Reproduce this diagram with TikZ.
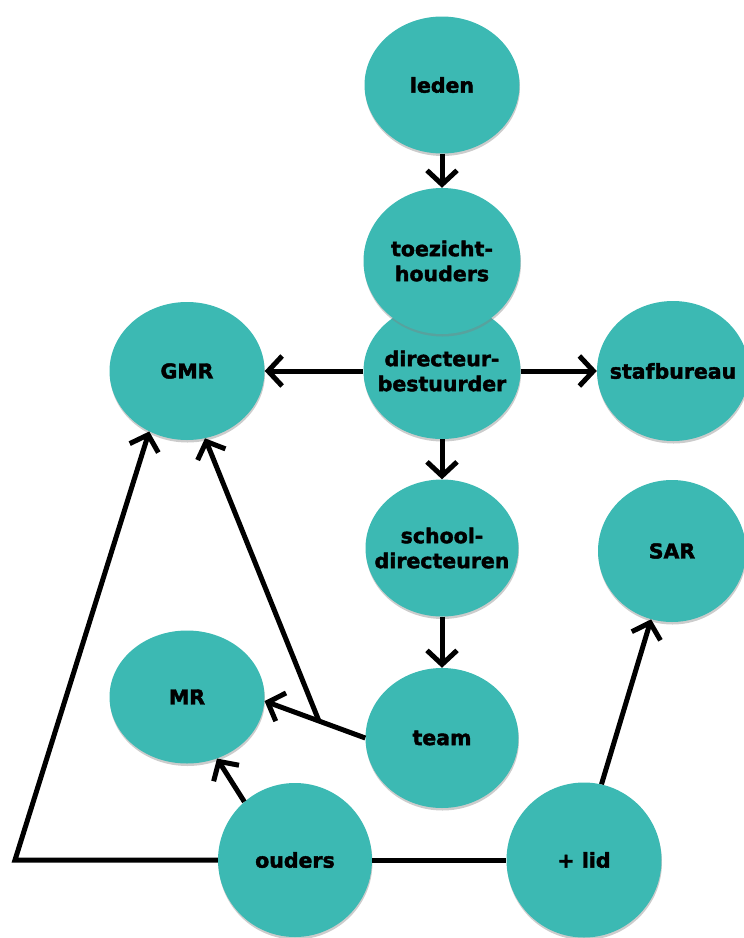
\documentclass[tikz,border=0pt]{standalone}
\usepackage{fontspec}
\setmainfont{DejaVu Sans}[BoldFeatures={FakeBold=2}]
\usetikzlibrary{shapes.geometric,arrows.meta,shadows}
\definecolor{teal1}{RGB}{60,185,179}
\begin{document}
\begin{tikzpicture}[x=1pt,y=-1pt,
  blob/.style={ellipse,fill=teal1,draw=none,inner sep=-25pt,align=center,
    font=\fontsize{20.5}{25}\selectfont\bfseries,
    drop shadow={opacity=0.4,shadow xshift=0.5pt,shadow yshift=-2.5pt}},
  conn/.style={line width=5pt,draw=black},
  arr/.style={conn,-{Straight Barb[length=14pt,width=30pt,line width=5pt]}}]
\useasboundingbox (0,0) rectangle (744,938);
\node[blob,minimum width=155pt,minimum height=137pt] (leden) at (442,85) {leden};
\node[blob,minimum width=157pt,minimum height=136pt] (dir) at (442,371) {directeur-\\bestuurder};
\node[blob,minimum width=157pt,minimum height=146pt] (toez) at (442,261) {toezicht-\\houders};
\node[blob,minimum width=155pt,minimum height=138pt] (gmr) at (187,371) {GMR};
\node[blob,minimum width=152pt,minimum height=140pt] (staf) at (673,371) {stafbureau};
\node[blob,minimum width=153pt,minimum height=137pt] (school) at (442,548) {school-\\directeuren};
\node[blob,minimum width=148pt,minimum height=142pt] (sar) at (672,551) {SAR};
\node[blob,minimum width=155pt,minimum height=133pt] (mr) at (187,697) {MR};
\node[blob,minimum width=153pt,minimum height=140pt] (team) at (442,738) {team};
\node[blob,minimum width=154pt,minimum height=154pt] (ouders) at (295,860) {ouders};
\node[blob,minimum width=155pt,minimum height=155pt] (lid) at (584,860) {+ lid};
\coordinate (corner) at (15,860);

\draw[arr] (leden.south) -- (toez.north);
\draw[arr] (dir.west) -- (gmr.east);
\draw[arr] (dir.east) -- (staf.west);
\draw[arr] (dir.south) -- (school.north);
\draw[arr] (school.south) -- (team.north);
\draw[arr] (team.180) -- (mr.-3) coordinate[pos=0.46] (br);
\draw[arr] (br) -- (gmr.-75);
\draw[arr] (ouders.131) -- (mr.-64);
\draw[conn] (ouders.east) -- (lid.west);
\draw[arr,line join=miter] (ouders.west) -- (corner) -- (gmr.-122);
\draw[arr] (lid.77) -- (sar.-107);
\end{tikzpicture}
\end{document}
